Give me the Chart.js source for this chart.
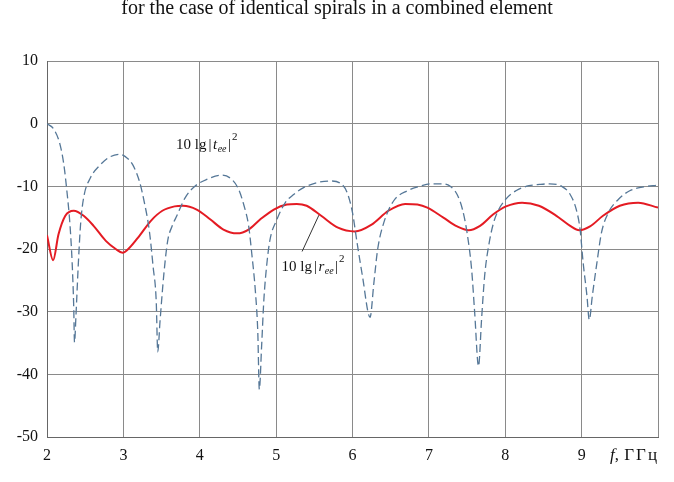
<!DOCTYPE html>
<html>
<head>
<meta charset="utf-8">
<script src="https://cdn.jsdelivr.net/npm/chart.js@4/dist/chart.umd.min.js"></script>
<style>
  html, body { margin: 0; padding: 0; background: #ffffff; }
  #wrap { width: 674px; height: 482px; position: relative; }
</style>
</head>
<body>
<div id="wrap"><canvas id="c" width="674" height="482"></canvas></div>
<script>
// ---- data ----
const titleText = "for the case of identical spirals in a combined element";
const xTickLabels = ["2", "3", "4", "5", "6", "7", "8", "9"];
const yTickValues = [10, 0, -10, -20, -30, -40, -50];

// 10 lg|t_ee|^2 (dashed)
const freqT = [2.00, 2.09, 2.17, 2.22, 2.26, 2.30, 2.33, 2.35, 2.36, 2.38, 2.41, 2.44, 2.48, 2.57, 2.68, 2.81, 2.96,
  3.03, 3.12, 3.21, 3.27, 3.34, 3.39, 3.43, 3.45, 3.48, 3.53, 3.58, 3.64, 3.70, 3.81, 3.94,
  4.09, 4.29, 4.42, 4.51, 4.58, 4.64, 4.68, 4.73, 4.76, 4.78, 4.81, 4.84, 4.88, 4.92,
  5.01, 5.12, 5.23, 5.36, 5.54, 5.71, 5.84, 5.93,
  6.00, 6.06, 6.13, 6.23, 6.28, 6.33, 6.41, 6.54, 6.72, 6.88,
  7.02, 7.17, 7.28, 7.37, 7.44, 7.50, 7.56, 7.60, 7.65, 7.69, 7.73, 7.79, 7.86, 7.99,
  8.14, 8.31, 8.45, 8.58, 8.74, 8.85, 8.93, 8.98,
  9.02, 9.07, 9.10, 9.14, 9.20, 9.26, 9.35, 9.48, 9.63, 9.81, 10.00];
const tDb = [0, -0.9, -3.3, -6.5, -10.7, -16, -22.4, -29.3, -34.9, -30.4, -22.4, -16, -11.8, -8.6, -6.8, -5.4, -4.9,
  -5.3, -6.5, -9.2, -12.3, -17.1, -22.9, -28.3, -36.4, -31.5, -24, -18.7, -16.3, -14.7, -11.8, -9.95,
  -8.9, -8.2, -8.9, -10.5, -13.1, -16.3, -20.6, -27, -33.3, -42.4, -35.5, -28, -22.2, -18.5,
  -15.3, -12.6, -11.3, -10.2, -9.4, -9.15, -9.5, -11,
  -14.2, -19, -24.3, -30.9, -25.4, -20, -15.8, -12.3, -10.7, -10,
  -9.6, -9.6, -10, -11.3, -13.7, -17.4, -23.3, -30.2, -38.7, -31.2, -24.3, -19, -15.3, -12.3,
  -10.7, -9.9, -9.7, -9.6, -10, -11.3, -13.7, -16.9,
  -22.2, -27.5, -31.3, -27.5, -22.2, -17.4, -14.2, -12.1, -10.7, -10.1, -9.8];

// 10 lg|r_ee|^2 (solid red)
const freqR = [2.00, 2.08, 2.15, 2.24, 2.35, 2.48, 2.61, 2.77, 2.90, 2.99, 3.08, 3.21, 3.36, 3.51, 3.67, 3.78, 3.96,
  4.14, 4.31, 4.49, 4.64, 4.79, 4.97, 5.14, 5.27, 5.40, 5.59, 5.81, 6.03, 6.25, 6.47, 6.69, 6.85, 6.98,
  7.19, 7.37, 7.52, 7.67, 7.84, 8.01, 8.22, 8.44, 8.67, 8.85, 8.97, 9.11, 9.28, 9.50, 9.74, 10.00];
const rDb = [-17.8, -21.8, -17.7, -14.7, -13.9, -14.7, -16.3, -18.7, -20.0, -20.6, -19.8, -17.9, -15.5, -13.9, -13.2, -13.1, -13.7,
  -15.3, -16.9, -17.5, -16.9, -15.3, -13.7, -12.9, -12.8, -13.1, -14.7, -16.6, -17.2, -16.1, -13.9, -12.8, -12.9, -13.4,
  -15, -16.4, -17, -16.3, -14.5, -13.2, -12.6, -13.1, -14.7, -16.3, -17, -16.4, -14.7, -13.1, -12.6, -13.4];

const toPoints = (xs, ys) => xs.map((x, i) => ({ x: x, y: ys[i] }));

const SERIF = "'Liberation Serif', 'Times New Roman', serif";

const decorPlugin = {
  id: 'decor',
  afterDraw(chart) {
    const ctx = chart.ctx;
    const xs = chart.scales.x, ys = chart.scales.y;
    const area = chart.chartArea;
    ctx.save();
    ctx.fillStyle = '#111';
    // title
    ctx.font = '20px ' + SERIF;
    ctx.textAlign = 'center';
    ctx.textBaseline = 'alphabetic';
    ctx.fillText(titleText, 337, 14);

    // axis unit label at the end of x axis
    const yLab = area.bottom + 19;
    let px = xs.getPixelForValue(10) - 48;
    ctx.textAlign = 'left';
    ctx.textBaseline = 'middle';
    ctx.font = 'italic 17px ' + SERIF;
    ctx.fillText('f', px, yLab);
    px += ctx.measureText('f').width;
    ctx.font = '17px ' + SERIF;
    ctx.fillText(',', px, yLab);
    px += ctx.measureText(', ').width + 1;
    ctx.letterSpacing = '2px';
    ctx.fillText('ГГц', px, yLab);
    ctx.letterSpacing = '0px';

    // series labels
    function drawLabel(x0, base, letter) {
      ctx.textBaseline = 'alphabetic';
      ctx.textAlign = 'left';
      let x = x0;
      ctx.font = '15px ' + SERIF;
      ctx.fillText('10 lg', x, base); x += ctx.measureText('10 lg').width + 2;
      ctx.fillText('|', x, base); x += ctx.measureText('|').width + 1.5;
      ctx.font = 'italic 15px ' + SERIF;
      ctx.fillText(letter, x, base); x += ctx.measureText(letter).width + 0.5;
      ctx.font = 'italic 10px ' + SERIF;
      ctx.fillText('ee', x, base + 3); x += ctx.measureText('ee').width + 1.5;
      ctx.font = '15px ' + SERIF;
      ctx.fillText('|', x, base); x += ctx.measureText('|').width + 1;
      ctx.font = '11px ' + SERIF;
      ctx.fillText('2', x, base - 9);
    }
    drawLabel(xs.getPixelForValue(3.69), ys.getPixelForValue(-4), 't');
    drawLabel(xs.getPixelForValue(5.07), ys.getPixelForValue(-23.5), 'r');

    // leader line for r label
    ctx.strokeStyle = '#333';
    ctx.lineWidth = 1;
    ctx.beginPath();
    ctx.moveTo(xs.getPixelForValue(5.34), ys.getPixelForValue(-20.4));
    ctx.lineTo(xs.getPixelForValue(5.56), ys.getPixelForValue(-14.6));
    ctx.stroke();
    ctx.restore();
  }
};

new Chart(document.getElementById('c'), {
  type: 'line',
  data: {
    datasets: [
      {
        label: 't',
        data: toPoints(freqT, tDb),
        borderColor: '#557797',
        borderWidth: 1.3,
        borderDash: [8, 4],
        pointRadius: 0,
        fill: false,
        cubicInterpolationMode: 'monotone'
      },
      {
        label: 'r',
        data: toPoints(freqR, rDb),
        borderColor: '#e41b23',
        borderWidth: 2,
        pointRadius: 0,
        fill: false,
        cubicInterpolationMode: 'monotone'
      }
    ]
  },
  options: {
    responsive: false,
    animation: false,
    devicePixelRatio: 1,
    layout: { padding: { top: 61, right: 16, left: 0, bottom: 0 } },
    plugins: { legend: { display: false }, tooltip: { enabled: false }, title: { display: false } },
    scales: {
      x: {
        type: 'linear',
        min: 2, max: 10,
        ticks: {
          stepSize: 1,
          color: '#111',
          font: { family: SERIF, size: 16 },
          padding: 9,
          maxRotation: 0,
          autoSkip: false,
          callback: (v) => { const i = Math.round(v) - 2; return (i >= 0 && i < xTickLabels.length) ? xTickLabels[i] : ''; }
        },
        grid: { color: '#8a8a8a', lineWidth: 1, drawTicks: false },
        border: { color: '#666', width: 1 },
        afterFit: (s) => { s.height = 45; }
      },
      y: {
        min: -50, max: 10,
        afterBuildTicks: (s) => { s.ticks = yTickValues.map(v => ({ value: v })); },
        ticks: {
          color: '#111',
          font: { family: SERIF, size: 16 },
          padding: 9,
          callback: (v) => String(v)
        },
        grid: { color: '#8a8a8a', lineWidth: 1, drawTicks: false },
        border: { color: '#666', width: 1 },
        afterFit: (s) => { s.width = 47; }
      }
    }
  },
  plugins: [decorPlugin]
});
</script>
</body>
</html>
